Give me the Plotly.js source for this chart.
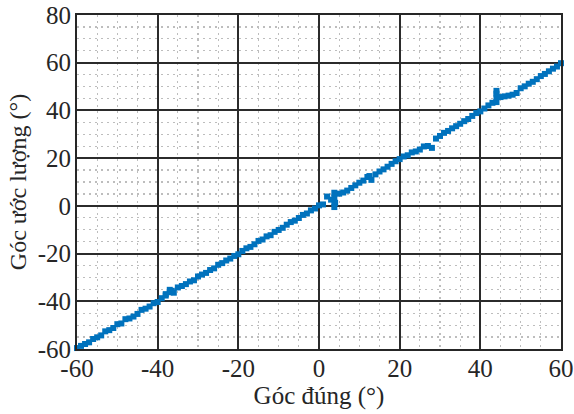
<!DOCTYPE html>
<html>
<head>
<meta charset="utf-8">
<script src="https://cdn.plot.ly/plotly-3.0.1.min.js"></script>
<style>html,body{margin:0;padding:0;background:#fff;}#chart{width:574px;height:414px;}</style>
</head>
<body>
<div id="chart"></div>
<script>
var trueAngle = [-60,-59,-58,-57,-56,-55,-54,-53,-52,-51,-50,-49,-48,-47,-46,-45,-44,-43,-42,-41,
-40,-39,-38,-37,-36,-35,-34,-33,-32,-31,-30,-29,-28,-27,-26,-25,-24,-23,-22,-21,
-20,-19,-18,-17,-16,-15,-14,-13,-12,-11,-10,-9,-8,-7,-6,-5,-4,-3,-2,-1,
0,1,2,3,4,5,6,7,8,9,10,11,12,13,14,15,16,17,18,19,
20,21,22,23,24,25,26,27,28,29,30,31,32,33,34,35,36,37,38,39,
40,41,42,43,44,45,46,47,48,49,50,51,52,53,54,55,56,57,58,59,60,
44,44,44,3.8,3.8,3.8,3.8,-37,-38,12.5,-36.5];
var estAngle = [-59.6,-58.7,-57.9,-57.2,-55.8,-55.1,-54.3,-52.6,-52.1,-51.2,-49.6,-49.3,-47.5,-47.2,-46.4,-45.3,-43.6,-43.1,-42.2,-40.8,
-40.3,-38.7,-37.6,-36.2,-36.4,-34.2,-33.6,-32.8,-31.7,-31.2,-29.6,-28.8,-28.1,-26.9,-26.2,-24.7,-24.0,-22.9,-22.1,-21.0,
-20.3,-18.9,-17.8,-17.2,-16.1,-14.7,-14.1,-12.8,-12.3,-10.9,-10.1,-9.2,-7.9,-6.8,-6.2,-5.1,-3.8,-3.2,-1.9,-1.1,
0.2,0.6,3.9,2.6,1.2,5.1,5.6,6.4,7.5,8.6,9.7,10.6,12.1,10.9,13.2,14.4,15.3,16.4,17.6,18.7,
19.6,20.7,21.2,22.4,22.8,23.6,24.9,25.1,24.3,28.2,29.3,30.6,31.4,32.5,33.4,34.4,35.5,36.4,37.7,38.9,
39.6,40.8,42.1,43.2,48.2,45.6,45.9,46.2,46.6,47.3,49.3,50.1,51.2,52.0,53.1,54.4,55.3,56.4,57.5,58.4,59.8,
43.5,45.5,47,-0.5,1.5,3.5,5.5,-35.2,-37,12.5,-35.6];
var xTickVals = [-60,-40,-20,0,20,40,60];
var xTickText = ["-60","-40","-20","0","20","40","60"];
var yTickVals = [-60,-40,-20,0,20,40,60,80];
var yTickText = ["-60","-40","-20","0","20","40","60","80"];

var tickFont = {family:"Liberation Serif, Times New Roman, serif", size:25, color:"#262626"};
var xTitleFont = {family:"Liberation Serif, Times New Roman, serif", size:25, color:"#262626"};
var yTitleFont = {family:"Liberation Serif, Times New Roman, serif", size:24, color:"#262626"};
var axisCommon = {
  showline:true, mirror:true, linecolor:"#262626", linewidth:2,
  showgrid:true, gridcolor:"#2b2b2b", gridwidth:2,
  zeroline:false, ticks:"", tickmode:"array",
  tickfont:tickFont,
  minor:{tickmode:"linear", tick0:0, dtick:5, showgrid:true, gridcolor:"#bdbdbd", gridwidth:1.2, griddash:"2px,4px", ticks:""}
};
var xaxis = Object.assign({}, axisCommon, {
  range:[-60,60], tickvals:xTickVals, ticktext:xTickText, ticklabelstandoff:-4,
  title:{text:"Góc đúng (°)", font:xTitleFont, standoff:4}
});
var yaxis = Object.assign({}, axisCommon, {
  range:[-60,80], tickvals:yTickVals, ticktext:yTickText, ticklabelstandoff:-1,
  title:{text:"Góc ước lượng (°)", font:yTitleFont, standoff:4}
});

Plotly.newPlot("chart", [{
  x:trueAngle, y:estAngle, type:"scatter", mode:"markers",
  marker:{symbol:"square", size:6, color:"#0072BD", line:{width:0}},
  cliponaxis:false
}], {
  width:574, height:414,
  margin:{l:77, r:13, t:15, b:65},
  paper_bgcolor:"#fff", plot_bgcolor:"#fff",
  showlegend:false,
  font:tickFont,
  xaxis:xaxis, yaxis:yaxis
}, {staticPlot:true});
</script>
</body>
</html>
